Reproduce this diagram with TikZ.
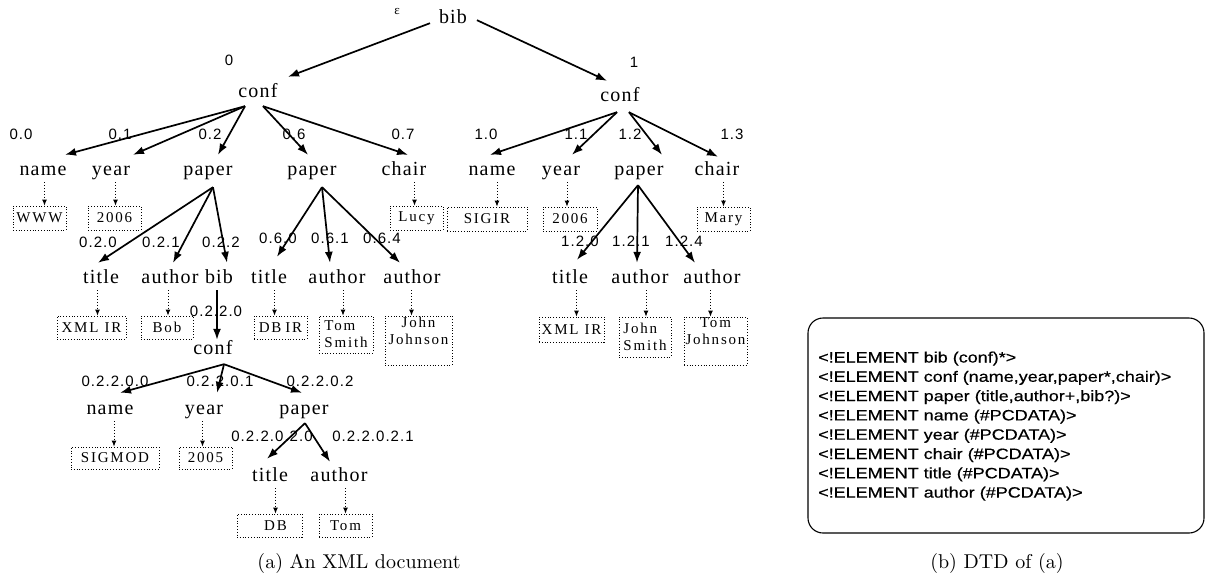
\documentclass[tikz,border=0pt]{standalone}
\usepackage{fontspec}
\usetikzlibrary{arrows.meta}
\newfontfamily\elfont[LetterSpace=6]{Liberation Serif}
\newfontfamily\epsfont{Liberation Serif}
\newfontfamily\numfont[LetterSpace=7]{Liberation Sans}
\newfontfamily\valfont[LetterSpace=12]{Liberation Serif}
\newfontfamily\dtdfont[FakeStretch=1.2,FakeBold=0.4]{Liberation Sans}
\begin{document}
\begin{tikzpicture}[x=1pt,y=-1pt,
  el/.style={inner sep=0pt, anchor=base, font=\elfont\fontsize{20}{24}\selectfont, text height=14pt, text depth=4pt},
  num/.style={inner sep=0pt, anchor=base, font=\numfont\fontsize{15}{18}\selectfont},
  val/.style={draw, dotted, line width=0.8pt, inner sep=0pt, font=\valfont\fontsize{15}{17}\selectfont, align=center},
  arr/.style={-{Latex[length=11pt,width=8pt]}, line width=1.7pt},
  darr/.style={-{Latex[length=6pt,width=5pt]}, line width=0.9pt, dotted, shorten <=3pt},
  dtd/.style={inner sep=0pt, anchor=base west, font=\dtdfont\fontsize{15}{18}\selectfont},
  captxt/.style={inner sep=0pt, anchor=base}]
\path[fill=white] (0,0) rectangle (1211,581);
\useasboundingbox (0,0) rectangle (1211,581);

% element nodes
\node[el] (bib) at (453,23) {bib};
\node[el] (conf0) at (258,97) {conf};
\node[el] (conf1) at (620,101) {conf};
\node[el] (name0) at (43,175) {name};
\node[el] (year0) at (111,175) {year};
\node[el] (paper02) at (208,175) {paper};
\node[el] (paper06) at (312,175) {paper};
\node[el] (chair0) at (404,175) {chair};
\node[el] (name1) at (492,175) {name};
\node[el] (year1) at (561,175) {year};
\node[el] (paper12) at (639,175) {paper};
\node[el] (chair1) at (717,175) {chair};
\node[el] (title020) at (101,283) {title};
\node[el] (author021) at (170,283) {author};
\node[el] (bib022) at (219,283) {bib};
\node[el] (title060) at (269,283) {title};
\node[el] (author061) at (337,283) {author};
\node[el] (author064) at (412,283) {author};
\node[el] (title120) at (570,283) {title};
\node[el] (author121) at (640,283) {author};
\node[el] (author124) at (712,283) {author};
\node[el] (conf2) at (213,354) {conf};
\node[el] (name2) at (110,414) {name};
\node[el] (year2) at (204,414) {year};
\node[el] (paper2) at (304,414) {paper};
\node[el] (title3) at (270,481) {title};
\node[el] (author3) at (339,481) {author};

% numbering labels
\node[inner sep=0pt, anchor=base, font=\epsfont\fontsize{13}{15}\selectfont] (eps) at (397,14) {ε};
\node[num] (l0) at (229,65) {0};
\node[num] (l1) at (634,67) {1};
\node[num] (l00) at (21,139) {0.0};
\node[num] (l01) at (120,139) {0.1};
\node[num] (l02) at (210,139) {0.2};
\node[num] (l06) at (294,139) {0.6};
\node[num] (l07) at (403,139) {0.7};
\node[num] (l10) at (486,139) {1.0};
\node[num] (l11) at (576,139) {1.1};
\node[num] (l12) at (630,139) {1.2};
\node[num] (l13) at (732,139) {1.3};
\node[num] (l020) at (98,247) {0.2.0};
\node[num] (l021) at (161,247) {0.2.1};
\node[num] (l022) at (221,247) {0.2.2};
\node[num] (l060) at (278,243) {0.6.0};
\node[num] (l061) at (330,243) {0.6.1};
\node[num] (l064) at (382,243) {0.6.4};
\node[num] (l120) at (580,246) {1.2.0};
\node[num] (l121) at (631,246) {1.2.1};
\node[num] (l124) at (684,246) {1.2.4};
\node[num] (l0220) at (216,316) {0.2.2.0};
\node[num] (l02200) at (115,386) {0.2.2.0.0};
\node[num] (l02201) at (220,386) {0.2.2.0.1};
\node[num] (l02202) at (320,386) {0.2.2.0.2};
\node[num] (l022020) at (272,441) {0.2.2.0.2.0};
\node[num] (l022021) at (373,441) {0.2.2.0.2.1};

% value boxes
\node[val, minimum width=53pt, minimum height=24pt] (vwww) at (39.5,218) {WWW};
\node[val, minimum width=53pt, minimum height=24pt] (v2006a) at (114.5,218) {2006};
\node[val, minimum width=53pt, minimum height=24pt] (vlucy) at (416.5,218) {Lucy};
\node[val, minimum width=80pt, minimum height=24pt] (vsigir) at (487,219) {SIGIR};
\node[val, minimum width=54pt, minimum height=24pt] (v2006b) at (570,219) {2006};
\node[val, minimum width=53pt, minimum height=24pt] (vmary) at (723.5,219) {Mary};
\node[val, minimum width=69pt, minimum height=23pt] (vxmla) at (91.5,327.5) {XML\hspace{6pt}IR};
\node[val, minimum width=52pt, minimum height=23pt] (vbob) at (167,327.5) {Bob};
\node[val, minimum width=53pt, minimum height=23pt] (vdbir) at (280.5,327.5) {DB\hspace{4pt}IR};
\node[val, minimum width=54pt, minimum height=37pt, align=left] (vtsmith) at (346,334.5) {Tom\\Smith};
\node[val, minimum width=67pt, minimum height=49pt] (vjjohnson) at (418.5,340.5) {John\\Johnson\\[2pt]};
\node[val, minimum width=65pt, minimum height=25pt] (vxmlb) at (571.5,329.5) {XML\hspace{6pt}IR};
\node[val, minimum width=52pt, minimum height=40pt, align=left] (vjsmith) at (645,337) {John\\Smith};
\node[val, minimum width=63pt, minimum height=48pt] (vtjohnson) at (715.5,341) {Tom\\Johnson\\[2pt]};
\node[val, minimum width=88pt, minimum height=22pt] (vsigmod) at (115,458) {SIGMOD};
\node[val, minimum width=53pt, minimum height=22pt] (v2005) at (205.5,458) {2005};
\node[val, minimum width=65pt, minimum height=23pt] (vdb) at (269.5,525.5) {\hspace{12pt}DB};
\node[val, minimum width=53pt, minimum height=23pt] (vtom) at (345.5,525.5) {Tom};

% solid arrows
\draw[arr] ([shift={(-23,-4)}]bib.south) -- ([shift={(30,-6)}]conf0.north);
\draw[arr] ([shift={(24,-7)}]bib.south) -- ([shift={(-13,-6)}]conf1.north);
\draw[arr] ([shift={(-13,5)}]conf0.south) -- ([shift={(22,-6)}]name0.north);
\draw[arr] ([shift={(-13,5)}]conf0.south) -- ([shift={(22,-6)}]year0.north);
\draw[arr] ([shift={(-13,5)}]conf0.south) -- ([shift={(10,-6)}]paper02.north);
\draw[arr] ([shift={(5,5)}]conf0.south) -- ([shift={(-4,-6)}]paper06.north);
\draw[arr] ([shift={(5,5)}]conf0.south) -- ([shift={(4,-6)}]chair0.north);
\draw[arr] ([shift={(-3,7)}]conf1.south) -- ([shift={(-2,-6)}]name1.north);
\draw[arr] ([shift={(-3,7)}]conf1.south) -- ([shift={(11,-6)}]year1.north);
\draw[arr] ([shift={(9,7)}]conf1.south) -- ([shift={(23,-6)}]paper12.north);
\draw[arr] ([shift={(9,7)}]conf1.south) -- ([shift={(1,-4)}]chair1.north);
\draw[arr] ([shift={(5,8)}]paper02.south) -- ([shift={(-3,-6)}]title020.north);
\draw[arr] ([shift={(5,8)}]paper02.south) -- ([shift={(3,-6)}]author021.north);
\draw[arr] ([shift={(5,8)}]paper02.south) -- ([shift={(8,-6)}]bib022.north);
\draw[arr] ([shift={(10,8)}]paper06.south) -- ([shift={(8,-12)}]title060.north);
\draw[arr] ([shift={(10,8)}]paper06.south) -- ([shift={(-7,-6)}]author061.north);
\draw[arr] ([shift={(10,8)}]paper06.south) -- ([shift={(-12,-6)}]author064.north);
\draw[arr] ([shift={(-1,6)}]paper12.south) -- ([shift={(7,-9)}]title120.north);
\draw[arr] ([shift={(-1,6)}]paper12.south) -- ([shift={(-3,-6)}]author121.north);
\draw[arr] ([shift={(-1,6)}]paper12.south) -- ([shift={(-17,-6)}]author124.north);
\draw[arr] ([shift={(-2,3)}]bib022.south) -- ([shift={(4,0)}]conf2.north);
\draw[arr] ([shift={(11,6)}]conf2.south) -- ([shift={(10,-7)}]name2.north);
\draw[arr] ([shift={(11,6)}]conf2.south) -- ([shift={(13,-7)}]year2.north);
\draw[arr] ([shift={(11,6)}]conf2.south) -- ([shift={(-2,-7)}]paper2.north);
\draw[arr] ([shift={(1,5)}]paper2.south) -- ([shift={(-3,-8)}]title3.north);
\draw[arr] ([shift={(1,5)}]paper2.south) -- ([shift={(-9,-5)}]author3.north);

% dotted value arrows
\draw[darr] ([xshift=5pt]vwww.north |- name0.south) -- ([xshift=5pt]vwww.north);
\draw[darr] ([xshift=1pt]v2006a.north |- year0.south) -- ([xshift=1pt]v2006a.north);
\draw[darr] ([xshift=-2pt]vlucy.north |- chair0.south) -- ([xshift=-2pt]vlucy.north);
\draw[darr] ([xshift=10pt]vsigir.north |- name1.south) -- ([xshift=10pt]vsigir.north);
\draw[darr] ([xshift=-3pt]v2006b.north |- year1.south) -- ([xshift=-3pt]v2006b.north);
\draw[darr] (vmary.north |- chair1.south) -- (vmary.north);
\draw[darr] ([xshift=6pt]vxmla.north |- title020.south) -- ([xshift=6pt]vxmla.north);
\draw[darr] ([xshift=1pt]vbob.north |- author021.south) -- ([xshift=1pt]vbob.north);
\draw[darr] ([xshift=-6pt]vdbir.north |- title060.south) -- ([xshift=-6pt]vdbir.north);
\draw[darr] ([xshift=-3pt]vtsmith.north |- author061.south) -- ([xshift=-3pt]vtsmith.north);
\draw[darr] ([xshift=-7pt]vjjohnson.north |- author064.south) -- ([xshift=-7pt]vjjohnson.north);
\draw[darr] ([xshift=5pt]vxmlb.north |- title120.south) -- ([xshift=5pt]vxmlb.north);
\draw[darr] ([xshift=1pt]vjsmith.north |- author121.south) -- ([xshift=1pt]vjsmith.north);
\draw[darr] ([xshift=-5pt]vtjohnson.north |- author124.south) -- ([xshift=-5pt]vtjohnson.north);
\draw[darr] ([xshift=-1pt]vsigmod.north |- name2.south) -- ([xshift=-1pt]vsigmod.north);
\draw[darr] ([xshift=-3pt]v2005.north |- year2.south) -- ([xshift=-3pt]v2005.north);
\draw[darr] ([xshift=6pt]vdb.north |- title3.south) -- ([xshift=6pt]vdb.north);
\draw[darr] (vtom.north |- author3.south) -- (vtom.north);

% DTD box
\node[draw, line width=1.1pt, rounded corners=15pt, minimum width=396pt, minimum height=215pt, inner sep=0pt] (dtdbox) at (1006,425.5) {};
\node[dtd] (d1) at (818,362.5) {<!ELEMENT bib (conf)*>};
\node[dtd] (d2) at (818,381.8) {<!ELEMENT conf (name,year,paper*,chair)>};
\node[dtd] (d3) at (818,401.1) {<!ELEMENT paper (title,author+,bib?)>};
\node[dtd] (d4) at (818,420.4) {<!ELEMENT name (\#PCDATA)>};
\node[dtd] (d5) at (818,439.7) {<!ELEMENT year (\#PCDATA)>};
\node[dtd] (d6) at (818,459.0) {<!ELEMENT chair (\#PCDATA)>};
\node[dtd] (d7) at (818,478.3) {<!ELEMENT title (\#PCDATA)>};
\node[dtd] (d8) at (818,497.6) {<!ELEMENT author (\#PCDATA)>};

% captions
\node[captxt] (capa) at (359,568) {\scalebox{2}{\fontsize{10}{12}\selectfont (a) An XML document}};
\node[captxt] (capb) at (997,568) {\scalebox{2}{\fontsize{10}{12}\selectfont (b) DTD of (a)}};
\end{tikzpicture}
\end{document}
